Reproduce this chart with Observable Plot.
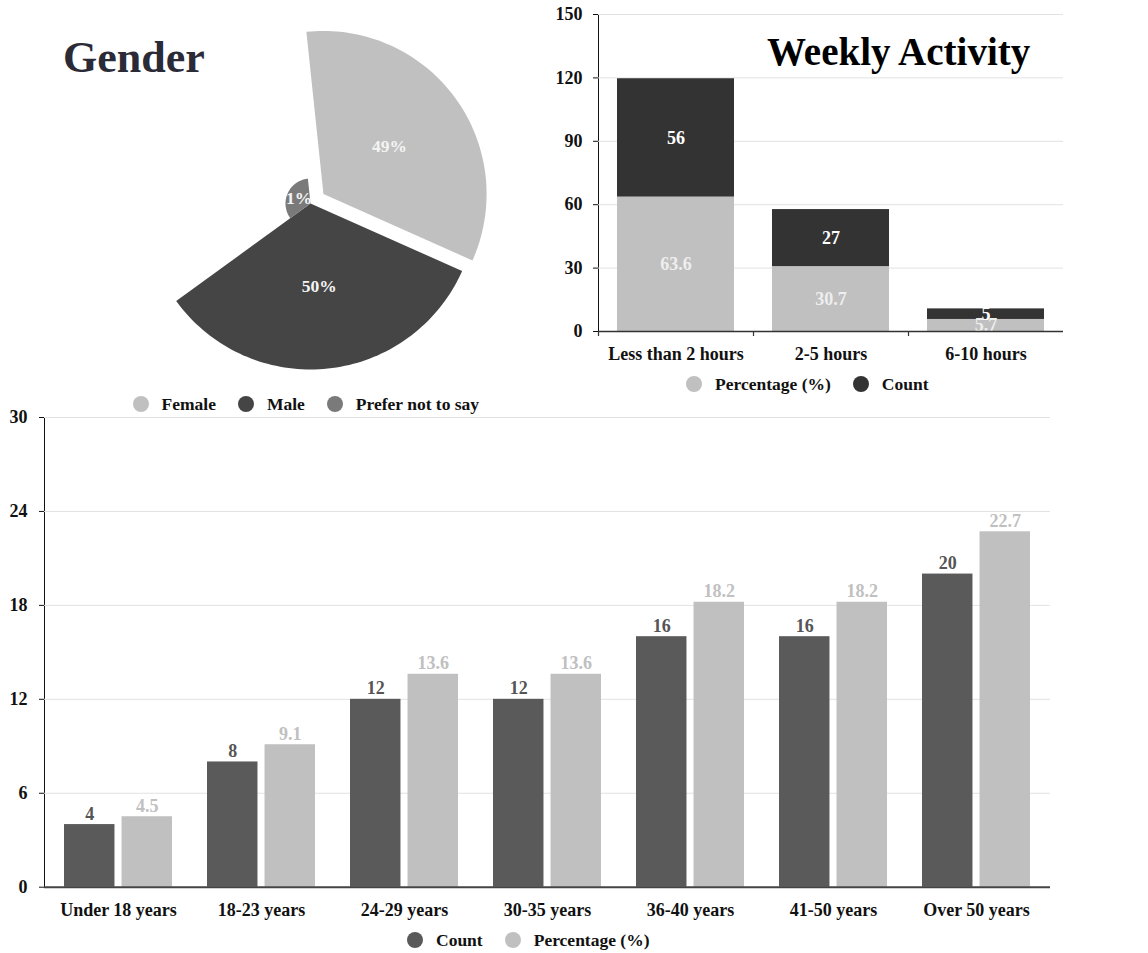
<!DOCTYPE html>
<html>
<head>
<meta charset="utf-8">
<script src="https://cdn.jsdelivr.net/npm/d3@7"></script>
<script src="https://cdn.jsdelivr.net/npm/@observablehq/plot@0.6"></script>
<style>
  html, body { margin: 0; padding: 0; background: #ffffff; }
  #root { position: relative; width: 1148px; height: 953px; overflow: hidden; font-family: "Liberation Serif", "Times New Roman", serif; font-weight: bold; color: #111; }
  .title { position: absolute; line-height: 1; font-weight: bold; white-space: nowrap; }
  .legend { position: absolute; display: flex; align-items: center; height: 20px; font-size: 17.5px; line-height: 20px; white-space: nowrap; }
  .legend .sw { width: 16px; height: 16px; border-radius: 50%; margin-right: 13px; flex: none; }
  .legend .lab { margin-right: 22px; }
</style>
</head>
<body>
<div id="root"></div>
<script>
// ---------------- DATA ----------------
const genders = ["Female", "Male", "Prefer not to say"];
const genderPct = [49, 50, 1];
const genderColors = ["#c0c0c0", "#454545", "#7a7a7a"];

const activityCats = ["Less than 2 hours", "2-5 hours", "6-10 hours"];
const activityPct = [63.6, 30.7, 5.7];
const activityCount = [56, 27, 5];
const activityTicks = [0, 30, 60, 90, 120, 150];
const activitySeries = ["Percentage (%)", "Count"];
const activityColors = ["#c0c0c0", "#333333"];

const ageCats = ["Under 18 years", "18-23 years", "24-29 years", "30-35 years", "36-40 years", "41-50 years", "Over 50 years"];
const ageCount = [4, 8, 12, 12, 16, 16, 20];
const agePct = [4.5, 9.1, 13.6, 13.6, 18.2, 18.2, 22.7];
const ageTicks = [0, 6, 12, 18, 24, 30];
const ageSeries = ["Count", "Percentage (%)"];
const ageColors = ["#5a5a5a", "#c0c0c0"];

const root = document.getElementById("root");
const FONT = '"Liberation Serif", "Times New Roman", serif';

function place(el, left, top) {
  el.style.position = "absolute";
  el.style.left = left + "px";
  el.style.top = top + "px";
  root.appendChild(el);
}
function addTitle(text, left, top, size, color) {
  const d = document.createElement("div");
  d.className = "title";
  d.textContent = text;
  d.style.left = left + "px";
  d.style.top = top + "px";
  d.style.fontSize = size + "px";
  d.style.color = color;
  root.appendChild(d);
}
function addLegend(names, colors, left, centerY) {
  const d = document.createElement("div");
  d.className = "legend";
  d.style.left = left + "px";
  d.style.top = (centerY - 10) + "px";
  names.forEach((n, i) => {
    const s = document.createElement("span");
    s.className = "sw";
    s.style.background = colors[i];
    const t = document.createElement("span");
    t.className = "lab";
    t.textContent = n;
    d.appendChild(s);
    d.appendChild(t);
  });
  root.appendChild(d);
}

// ---------------- GENDER (rose pie, equal angles) ----------------
{
  const n = genders.length;
  const startDeg = -6;
  const rScale = d3.scaleLinear([d3.min(genderPct), d3.max(genderPct)], [25, 166]);
  const slices = genders.map((g, i) => {
    const a0 = (startDeg + i * 360 / n) * Math.PI / 180;
    const a1 = (startDeg + (i + 1) * 360 / n) * Math.PI / 180;
    const am = (a0 + a1) / 2;
    const r = rScale(genderPct[i]);
    const off = i === 0 ? 16 : 0; // exploded first slice
    const ox = off * Math.sin(am), oy = off * Math.cos(am);
    const pts = [{x: ox, y: oy}];
    const steps = 80;
    for (let k = 0; k <= steps; k++) {
      const a = a0 + (a1 - a0) * k / steps;
      pts.push({x: ox + r * Math.sin(a), y: oy + r * Math.cos(a)});
    }
    pts.push({x: ox, y: oy});
    return {name: g, pct: genderPct[i], color: genderColors[i], pts,
            lx: ox + r * 0.5 * Math.sin(am), ly: oy + r * 0.5 * Math.cos(am)};
  });
  const pie = Plot.plot({
    width: 540, height: 400, margin: 0,
    style: {fontFamily: FONT, background: "transparent", overflow: "visible"},
    x: {domain: [-310, 230], axis: null},
    y: {domain: [-197, 203], axis: null},
    marks: [
      ...slices.map(s => Plot.line(s.pts, {x: "x", y: "y", fill: s.color, stroke: "none"})),
      Plot.text(slices, {x: "lx", y: "ly", text: d => d.pct + "%", fill: "#f4f4f4",
        fontSize: 17.5, fontWeight: "bold", fontFamily: FONT})
    ]
  });
  place(pie, 0, 0);
  addTitle("Gender", 63, 36, 44, "#2b2b38");
  addLegend(genders, genderColors, 132.5, 404);
}

// ---------------- WEEKLY ACTIVITY (stacked bars) ----------------
{
  const data = activityCats.flatMap((c, i) => [
    {cat: c, series: activitySeries[0], value: activityPct[i]},
    {cat: c, series: activitySeries[1], value: activityCount[i]}
  ]);
  const W = 540, mL = 58, mR = 17;
  const step = (W - mL - mR) / activityCats.length;
  const unitPx = (366 - 14 - 35) / 150;
  const chart = Plot.plot({
    width: W, height: 366, marginLeft: mL, marginRight: mR, marginTop: 14, marginBottom: 35,
    style: {fontFamily: FONT, fontSize: "18px", fontWeight: "bold", color: "#111", background: "transparent", overflow: "visible"},
    x: {domain: activityCats, paddingInner: 0.245, paddingOuter: 0.1225, label: null, tickSize: 0, tickPadding: 16},
    y: {domain: [0, 150], ticks: activityTicks, label: null, tickSize: 5, tickPadding: 11, line: true},
    color: {domain: activitySeries, range: activityColors},
    marks: [
      Plot.ruleY(activityTicks.filter(t => t > 0), {stroke: "#e2e2e2", strokeWidth: 1}),
      Plot.barY(data, Plot.stackY({x: "cat", y: "value", fill: "series", order: null})),
      Plot.text(data, Plot.stackY({x: "cat", y: "value", z: "series", order: null,
        text: d => String(d.value),
        fill: d => d.series === "Count" ? "#ffffff" : "#eeeeee",
        fontSize: 18, fontWeight: "bold"})),
      Plot.ruleY([0], {stroke: "#333", strokeWidth: 1.5}),
      Plot.ruleX(activityCats, {x: d => d, dx: -step / 2, y1: 0, y2: -5 / unitPx, stroke: "#333", strokeWidth: 1.2})
    ]
  });
  place(chart, 540, 0);
  addTitle("Weekly Activity", 767, 32, 39, "#000");
  addLegend(activitySeries, activityColors, 686, 384);
}

// ---------------- AGE (grouped bars) ----------------
{
  const W = 1080, mL = 44, mR = 30;
  const padIn = 0.246;
  const step = (W - mL - mR) / ageCats.length;
  const band = step * (1 - padIn);
  const gap = 6.7;
  const inset = band / 2 + gap / 2;
  const shift = (band / 2 + gap / 2) / 2;
  const counts = ageCats.map((c, i) => ({cat: c, value: ageCount[i]}));
  const pcts = ageCats.map((c, i) => ({cat: c, value: agePct[i]}));
  const chart = Plot.plot({
    width: W, height: 527, marginLeft: mL, marginRight: mR, marginTop: 17, marginBottom: 40.3,
    style: {fontFamily: FONT, fontSize: "18px", fontWeight: "bold", color: "#111", background: "transparent", overflow: "visible"},
    x: {domain: ageCats, paddingInner: padIn, paddingOuter: padIn / 2, label: null, tickSize: 0, tickPadding: 16},
    y: {domain: [0, 30], ticks: ageTicks, label: null, tickSize: 5, tickPadding: 12, line: true},
    marks: [
      Plot.ruleY(ageTicks.filter(t => t > 0), {stroke: "#e2e2e2", strokeWidth: 1}),
      Plot.barY(counts, {x: "cat", y: "value", fill: ageColors[0], insetRight: inset}),
      Plot.barY(pcts, {x: "cat", y: "value", fill: ageColors[1], insetLeft: inset}),
      Plot.text(counts, {x: "cat", y: "value", dx: -shift, dy: -5, lineAnchor: "bottom",
        text: d => String(d.value), fill: "#555555", fontSize: 18, fontWeight: "bold"}),
      Plot.text(pcts, {x: "cat", y: "value", dx: shift, dy: -5, lineAnchor: "bottom",
        text: d => String(d.value), fill: "#c0c0c0", fontSize: 18, fontWeight: "bold"}),
      Plot.ruleY([0], {stroke: "#444", strokeWidth: 2})
    ]
  });
  place(chart, 0, 400);
  addLegend(ageSeries, ageColors, 407, 940);
}
</script>
</body>
</html>
